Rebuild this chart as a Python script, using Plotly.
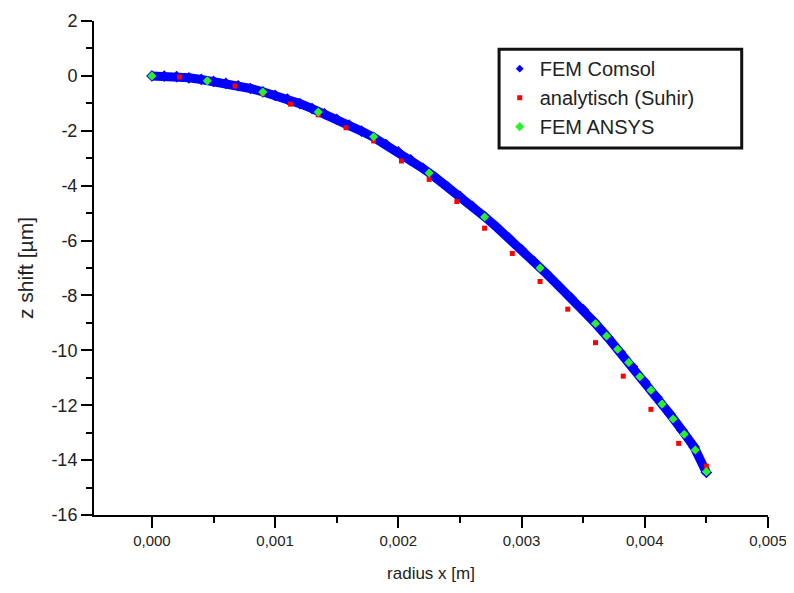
import plotly.graph_objects as go

# FEM Comsol (dense band), x in m, z shift in µm
comsol_x = [0.0000, 0.0001, 0.0002, 0.0003, 0.0004, 0.0005, 0.0006, 0.0007, 0.0008, 0.0009,
            0.0010, 0.0011, 0.0012, 0.0013, 0.0014, 0.0015, 0.0016, 0.0017, 0.0018, 0.0019,
            0.0020, 0.0021, 0.0022, 0.0023, 0.0024, 0.0025, 0.0026, 0.0027, 0.0028, 0.0029,
            0.0030, 0.0031, 0.0032, 0.0033, 0.0034, 0.0035, 0.0036, 0.0037, 0.0038, 0.0039,
            0.0040, 0.0041, 0.0042, 0.0043, 0.0044, 0.0045]
comsol_y = [0.00, -0.01, -0.03, -0.07, -0.13, -0.20, -0.27, -0.36, -0.46, -0.58,
            -0.71, -0.85, -1.01, -1.19, -1.38, -1.58, -1.79, -2.01, -2.24, -2.50,
            -2.77, -3.06, -3.37, -3.70, -4.04, -4.39, -4.75, -5.13, -5.52, -5.92,
            -6.33, -6.76, -7.20, -7.65, -8.08, -8.52, -9.02, -9.53, -10.06, -10.60,
            -11.15, -11.72, -12.30, -12.90, -13.52, -14.45]

# analytisch (Suhir)
suhir_x = [0.0, 0.000225, 0.00045, 0.000675, 0.0009, 0.001125, 0.00135, 0.001575, 0.0018,
           0.002025, 0.00225, 0.002475, 0.0027, 0.002925, 0.00315, 0.003375, 0.0036,
           0.003825, 0.00405, 0.004275, 0.0045]
suhir_y = [0.0, -0.04, -0.16, -0.37, -0.64, -1.03, -1.42, -1.89, -2.37,
           -3.10, -3.77, -4.58, -5.55, -6.47, -7.49, -8.50, -9.72,
           -10.94, -12.15, -13.39, -14.22]

# FEM ANSYS
ansys_x = [0.0, 0.00045, 0.0009, 0.00135, 0.0018, 0.00225, 0.0027, 0.00315, 0.0036,
           0.00369, 0.00378, 0.00387, 0.00396, 0.00405, 0.00414, 0.00423, 0.00432,
           0.00441, 0.0045]
ansys_y = [0.0, -0.18, -0.59, -1.32, -2.22, -3.54, -5.14, -7.00, -9.02,
           -9.48, -9.96, -10.44, -10.96, -11.45, -11.96, -12.50, -13.06,
           -13.63, -14.42]

# tick labels
x_tickvals = [0.000, 0.001, 0.002, 0.003, 0.004, 0.005]
x_ticktext = ["0,000", "0,001", "0,002", "0,003", "0,004", "0,005"]
y_tickvals = [2, 0, -2, -4, -6, -8, -10, -12, -14, -16]
y_ticktext = ["2", "0", "-2", "-4", "-6", "-8", "-10", "-12", "-14", "-16"]

BLUE = "#0000ff"
RED = "#ff0000"
GREEN = "#2af02a"
TXT = "#222222"
FONT = "Liberation Sans, Arial, sans-serif"

fig = go.Figure()

# Comsol band (dense points)
fig.add_trace(go.Scatter(
    x=comsol_x, y=comsol_y, mode="lines+markers",
    line=dict(color=BLUE, width=9),
    marker=dict(symbol="diamond", size=9, color=BLUE),
    showlegend=False, legendgroup="a", hoverinfo="skip"))
# legend entry for Comsol
fig.add_trace(go.Scatter(
    x=[None], y=[None], mode="markers", name="FEM Comsol",
    marker=dict(symbol="diamond", size=6, color=BLUE), legendgroup="a"))

fig.add_trace(go.Scatter(
    x=suhir_x, y=suhir_y, mode="markers", name="analytisch (Suhir)",
    marker=dict(symbol="square", size=5, color=RED), legendgroup="b"))

fig.add_trace(go.Scatter(
    x=ansys_x, y=ansys_y, mode="markers", name="FEM ANSYS",
    marker=dict(symbol="diamond", size=7, color=GREEN), legendgroup="c"))

# legend frame (wider box as in the original)
fig.add_shape(type="rect", xref="paper", yref="paper",
              x0=0.601, x1=0.961, y0=0.743, y1=0.943,
              line=dict(color="#111111", width=3), fillcolor="rgba(0,0,0,0)", layer="above")

fig.update_layout(
    width=786, height=577,
    margin=dict(l=86, r=26, t=13, b=70),
    plot_bgcolor="white", paper_bgcolor="white",
    font=dict(family=FONT, color=TXT),
    xaxis=dict(
        range=[-0.00047, 0.005], automargin=False,
        tickvals=x_tickvals, ticktext=x_ticktext,
        ticks="outside", ticklen=11, tickwidth=2, tickcolor="black",
        minor=dict(dtick=0.0005, tick0=0.0005, ticks="outside", ticklen=6, tickwidth=2,
                   tickcolor="black", showgrid=False),
        showline=True, linecolor="black", linewidth=2,
        showgrid=False, zeroline=False,
        tickfont=dict(family=FONT, size=15, color=TXT),
        title=dict(text="radius x [m]", font=dict(size=17, color=TXT), standoff=19),
    ),
    yaxis=dict(
        range=[-16, 2], automargin=False,
        tickvals=y_tickvals, ticktext=y_ticktext,
        ticks="outside", ticklen=11, tickwidth=2, tickcolor="black",
        minor=dict(dtick=1, tick0=1, ticks="outside", ticklen=6, tickwidth=2,
                   tickcolor="black", showgrid=False),
        showline=True, linecolor="black", linewidth=2,
        showgrid=False, zeroline=False,
        tickfont=dict(family=FONT, size=18, color=TXT),
        title=dict(text="z shift [µm]", font=dict(size=21, color=TXT), standoff=12),
    ),
    legend=dict(
        x=0.602, y=0.943, xanchor="left", yanchor="top",
        borderwidth=0, bgcolor="rgba(0,0,0,0)",
        font=dict(size=20, color=TXT),
        tracegroupgap=0, itemwidth=30,
    ),
)

fig.write_html("out.html")
